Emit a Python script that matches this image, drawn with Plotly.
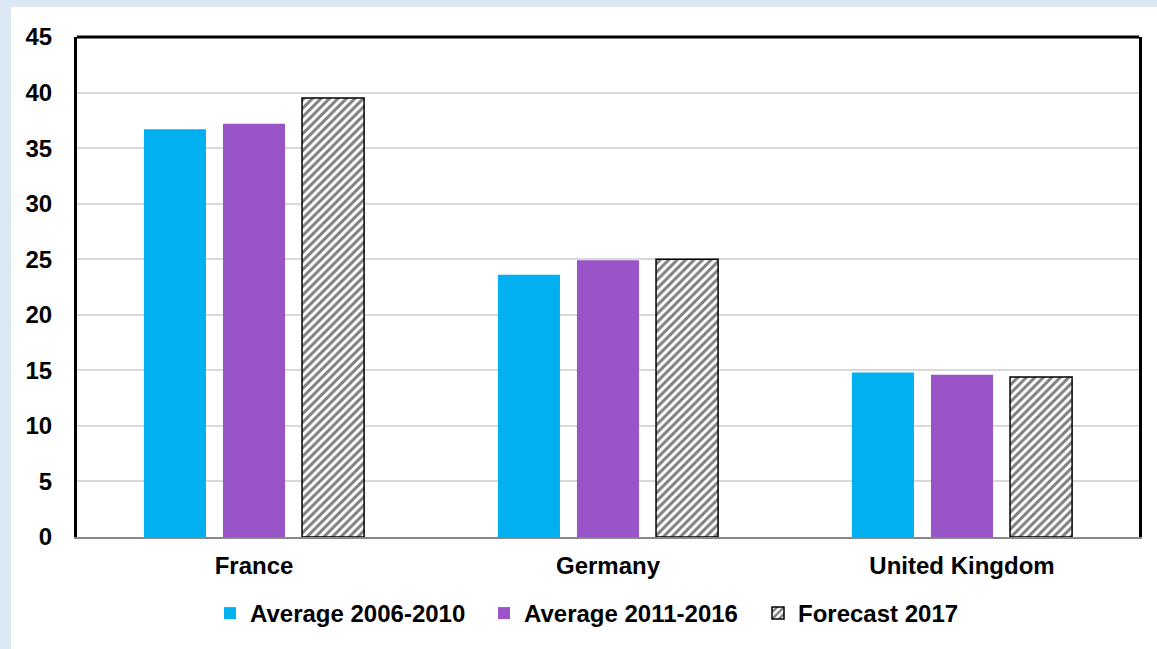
import plotly.graph_objects as go

categories = ["France", "Germany", "United Kingdom"]
avg_2006_2010 = [36.7, 23.6, 14.8]
avg_2011_2016 = [37.2, 24.9, 14.6]
forecast_2017 = [39.5, 25.0, 14.4]
y_ticks = [0, 5, 10, 15, 20, 25, 30, 35, 40, 45]

FONT = "Liberation Sans, Arial, sans-serif"
BG = "#dde8f5"

fig = go.Figure()
fig.add_trace(go.Bar(name="Average 2006-2010", x=categories, y=avg_2006_2010,
                     marker=dict(color="#00b0f0", line=dict(width=0))))
fig.add_trace(go.Bar(name="Average 2011-2016", x=categories, y=avg_2011_2016,
                     marker=dict(color="#9955c8", line=dict(width=0))))
fig.add_trace(go.Bar(name="Forecast 2017", x=categories, y=forecast_2017,
                     marker=dict(color="white", line=dict(color="black", width=1.5),
                                 pattern=dict(shape="/", fgcolor="black", bgcolor="white",
                                              size=6, solidity=0.5))))

L, R, T, B = 77, 18, 37, 112
W, H = 1157, 649
pw = W - L - R
ph = H - T - B

fig.update_layout(
    width=W, height=H,
    margin=dict(l=L, r=R, t=T, b=B, autoexpand=False),
    paper_bgcolor=BG,
    plot_bgcolor="white",
    barmode="group",
    bargap=0.33,
    bargroupgap=0.215,
    font=dict(family=FONT, size=24, color="black"),
    showlegend=True,
    legend=dict(orientation="h", x=(210 - L) / pw, xanchor="left",
                y=-0.108, yanchor="top",
                font=dict(family=FONT, size=24, color="black", weight="bold"),
                bgcolor="rgba(0,0,0,0)", itemwidth=30, traceorder="normal",
                entrywidth=229, entrywidthmode="pixels"),
    shapes=[
        # white chart area
        dict(type="rect", xref="paper", yref="paper",
             x0=(11 - L) / pw, x1=(W + 10 - L) / pw,
             y0=-(B + 10) / ph, y1=(T - 7) / ph + 1,
             fillcolor="white", line=dict(width=0), layer="below"),
        # top border
        dict(type="line", xref="paper", yref="paper", x0=0, x1=1, y0=1, y1=1,
             line=dict(color="black", width=3)),
    ],
)

fig.update_xaxes(
    showline=True, linecolor="#888888", linewidth=2, mirror=False,
    tickfont=dict(family=FONT, size=24, color="black", weight="bold"),
    ticks="", showgrid=False, ticklabelstandoff=6, automargin=False,
)
fig.update_yaxes(
    range=[0, 45], tickvals=y_ticks, ticktext=[str(v) for v in y_ticks],
    showline=True, linecolor="black", linewidth=3, mirror=True,
    showgrid=True, gridcolor="#d9d9d9", gridwidth=2,
    zeroline=False, ticks="", ticklen=0, ticklabelstandoff=17, automargin=False,
    tickfont=dict(family=FONT, size=24, color="black", weight="bold"),
)

fig.write_html(
    "out.html",
    config={"displayModeBar": False},
    post_script="document.body.style.margin='0';document.body.style.background='%s';" % BG,
)
